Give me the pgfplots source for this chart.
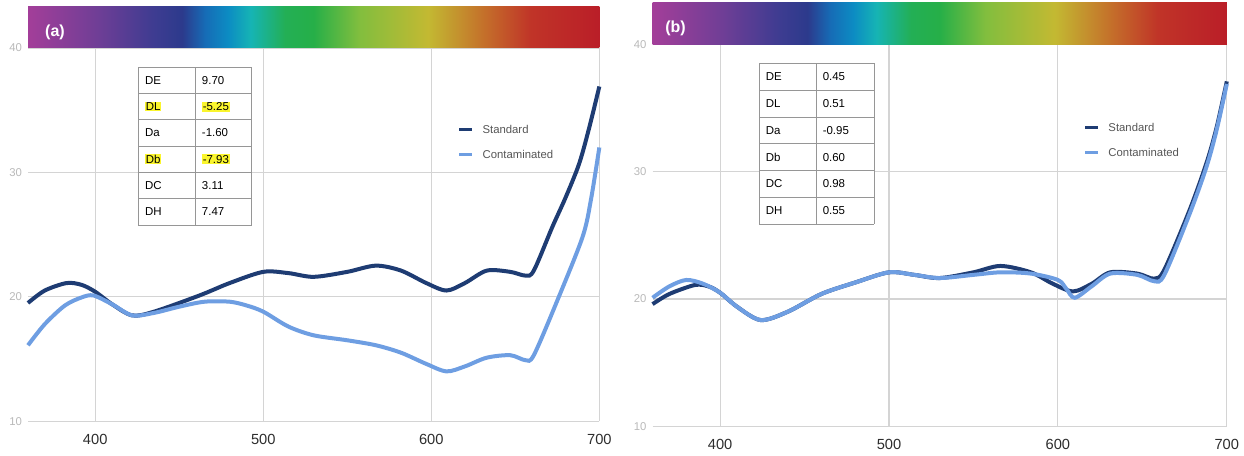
\documentclass[border=0pt]{standalone}
\usepackage{pgfplots}
\pgfplotsset{compat=1.18}
\usepackage{fontspec}
\setmainfont{Liberation Sans}

\definecolor{stdc}{RGB}{30,60,115}
\definecolor{conc}{RGB}{110,158,226}
\definecolor{gridc}{RGB}{212,212,212}
\definecolor{ylab}{RGB}{185,185,185}
\definecolor{xlab}{RGB}{45,45,45}
\definecolor{legc}{RGB}{85,85,85}
\definecolor{hl}{RGB}{250,245,45}
\definecolor{tabline}{RGB}{150,150,150}

% visible spectrum strip
\definecolor{r0}{RGB}{163,62,153}
\definecolor{r1}{RGB}{112,62,150}
\definecolor{r2}{RGB}{62,60,145}
\definecolor{r3}{RGB}{44,58,140}
\definecolor{r4}{RGB}{22,108,182}
\definecolor{r5}{RGB}{12,140,195}
\definecolor{r6}{RGB}{22,180,180}
\definecolor{r7}{RGB}{35,175,85}
\definecolor{r8}{RGB}{38,175,72}
\definecolor{r9}{RGB}{130,190,62}
\definecolor{r10}{RGB}{195,185,50}
\definecolor{r11}{RGB}{196,110,42}
\definecolor{r12}{RGB}{192,52,40}
\definecolor{r13}{RGB}{186,30,40}
\pgfdeclarehorizontalshading{spectrum}{100bp}{
  color(0bp)=(r0); color(25bp)=(r0); color(31bp)=(r1); color(36bp)=(r2);
  color(38.5bp)=(r3); color(40.5bp)=(r4); color(42.5bp)=(r5); color(44.5bp)=(r6);
  color(47.5bp)=(r7); color(50bp)=(r8); color(54bp)=(r9); color(60bp)=(r10);
  color(65bp)=(r11); color(69bp)=(r12); color(75bp)=(r13); color(100bp)=(r13)}

\newcommand{\hl}[1]{{\setlength{\fboxsep}{0.6pt}\colorbox{hl}{#1}}}

\pgfplotsset{
  panel/.style={
    scale only axis, anchor=south west,
    xmin=360, xmax=700, ymin=10, ymax=40,
    xtick={400,500,600,700}, ytick={10,20,30,40},
    grid=major, major grid style={gridc, line width=0.85pt},
    axis line style={draw=none}, major tick length=0pt,
    /pgf/number format/assume math mode=true,
    xticklabel style={font=\fontsize{11}{13}\selectfont, text=xlab, yshift=-6pt},
    yticklabel style={font=\fontsize{8.5}{10}\selectfont, text=ylab, xshift=-1pt},
    clip=false, no marks,
    every axis plot/.append style={line width=3pt, smooth},
    legend image code/.code={\draw[##1, line width=2.6pt] (0pt,0pt) -- (9.75pt,0pt);},
    legend cell align=left,
  },
  legpos/.style 2 args={
    legend style={draw=none, fill=none, at={(axis cs:#1,#2)}, anchor=west,
      font=\fontsize{8.5}{10}\selectfont, text=legc, inner sep=0pt,
      row sep=12.4pt, column sep=6.5pt,
      nodes={inner sep=0pt, text height=6.2pt, text depth=0pt}},
  },
}

\begin{document}
\begin{tikzpicture}
\useasboundingbox (0,0) rectangle (933pt,341.25pt);

% ---------- panel (a) ----------
\begin{axis}[panel, at={(21pt,25.4pt)}, width=428.5pt, height=279.9pt, legpos={615.4}{32.45}]
\shade[shading=spectrum] (rel axis cs:0,1) rectangle (rel axis cs:1,1.11);
\addplot[stdc] coordinates {
 (360,19.5) (370,20.5) (383,21.1) (392,20.95) (400,20.4) (410,19.4) (422,18.5)
 (435,18.8) (462,20.1) (480,21.1) (500,22.0) (515,21.9) (530,21.6) (550,22.0)
 (567,22.5) (582,22.1) (597,21.1) (609,20.5) (620,21.1) (633,22.1) (647,22.0)
 (656,21.7) (661,22.1) (672,25.6) (680,28.0) (688,30.7) (694,33.6) (700,36.9)};
\addlegendentry{Standard}
\addplot[conc] coordinates {
 (360,16.1) (370,17.8) (382,19.3) (392,19.95) (399,20.1) (410,19.4) (422,18.5)
 (435,18.7) (450,19.2) (465,19.6) (480,19.6) (490,19.3) (500,18.8) (515,17.6)
 (530,16.9) (550,16.5) (567,16.1) (582,15.5) (597,14.6) (609,14.0) (620,14.4)
 (633,15.1) (647,15.3) (656,14.9) (661,15.3) (675,19.7) (690,24.8) (695,27.8) (700,32.0)};
\addlegendentry{Contaminated}
\end{axis}

% ---------- panel (b) ----------
\begin{axis}[panel, at={(489.4pt,21.5pt)}, width=430.7pt, height=286.4pt, legpos={614.9}{32.49}]
\shade[shading=spectrum] (rel axis cs:0,1) rectangle (rel axis cs:1,1.111);
\addplot[stdc] coordinates {
 (360,19.6) (370,20.4) (385,21.1) (393,21.0) (400,20.5) (410,19.4) (424,18.35)
 (440,19.0) (460,20.4) (480,21.3) (500,22.1) (515,21.9) (530,21.65) (550,22.1)
 (566,22.6) (584,22.1) (597,21.2) (609,20.6) (620,21.2) (631,22.1) (647,22.0)
 (657,21.6) (663,22.3) (678,27.0) (688,30.7) (694,33.5) (700,37.1)};
\addlegendentry{Standard}
\addplot[conc] coordinates {
 (360,20.1) (370,21.0) (380,21.5) (390,21.2) (400,20.5) (410,19.4) (424,18.35)
 (440,19.0) (460,20.4) (480,21.3) (500,22.1) (515,21.9) (530,21.65) (550,21.9)
 (566,22.1) (584,22.0) (600,21.5) (605,20.8) (610,20.1) (620,21.0) (631,22.0)
 (647,21.9) (657,21.4) (663,21.9) (678,26.7) (688,30.4) (694,33.3) (700,36.9)};
\addlegendentry{Contaminated}
\end{axis}

% ---------- panel letters and colour-difference tables ----------
\begin{scope}[x=0.75pt, y=-0.75pt, shift={(0,341.25pt)},
  every node/.style={font=\fontsize{8.6}{10}\selectfont, text=black, inner sep=0pt}]
  \node[font=\fontsize{12}{14}\selectfont\bfseries, text=white] at (55,32) {(a)};
  \node[font=\fontsize{12}{14}\selectfont\bfseries, text=white] at (675.5,28.5) {(b)};

  % table (a)
  \fill[white] (138.3,67.3) rectangle (251.7,225);
  \foreach \k in {0,...,6} \draw[tabline, line width=0.6pt] (138.3,67.3+\k*26.28) -- (251.7,67.3+\k*26.28);
  \foreach \xx in {138.3,195.7,251.7} \draw[tabline, line width=0.6pt] (\xx,67.3) -- (\xx,225);
  \foreach \n/\v [count=\i from 0] in {DE/9.70, {\hl{DL}}/{\hl{-5.25}}, Da/-1.60,
      {\hl{Db}}/{\hl{-7.93}}, DC/3.11, DH/7.47} {
    \node[anchor=west] at (144.8,67.3+\i*26.28+13.14) {\n};
    \node[anchor=west] at (201.7,67.3+\i*26.28+13.14) {\v};
  }

  % table (b)
  \fill[white] (759.3,63.3) rectangle (874.3,224.3);
  \foreach \k in {0,...,6} \draw[tabline, line width=0.6pt] (759.3,63.3+\k*26.83) -- (874.3,63.3+\k*26.83);
  \foreach \xx in {759.3,816.7,874.3} \draw[tabline, line width=0.6pt] (\xx,63.3) -- (\xx,224.3);
  \foreach \n/\v [count=\i from 0] in {DE/0.45, DL/0.51, Da/-0.95, Db/0.60, DC/0.98, DH/0.55} {
    \node[anchor=west] at (765.5,63.3+\i*26.83+13.4) {\n};
    \node[anchor=west] at (822.5,63.3+\i*26.83+13.4) {\v};
  }
\end{scope}
\end{tikzpicture}
\end{document}
